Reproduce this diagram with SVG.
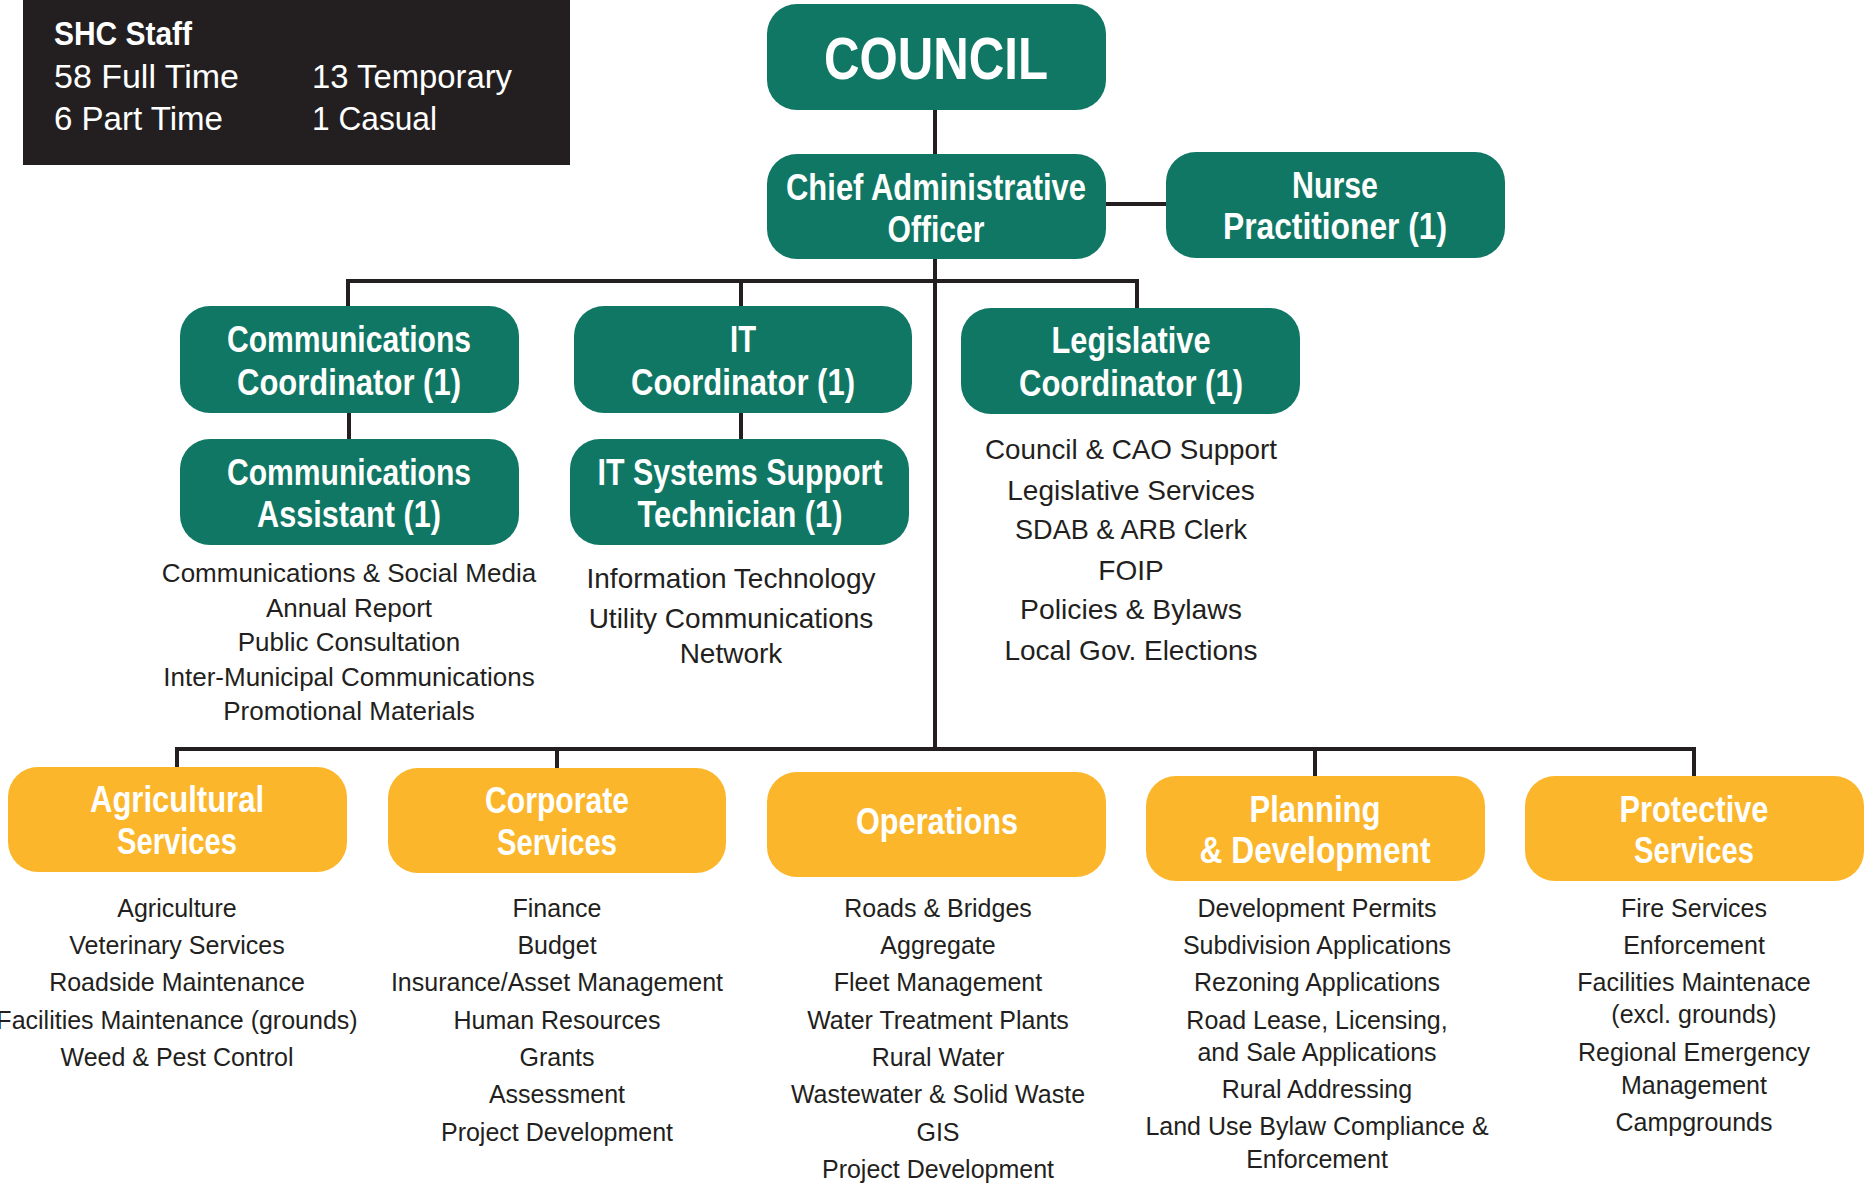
<svg xmlns="http://www.w3.org/2000/svg" width="1870" height="1186" viewBox="0 0 1870 1186">
<style>
.g{fill:#0F7763}
.y{fill:#FBB62B}
.h{font-family:"Liberation Sans",Arial,sans-serif;font-weight:bold;font-size:36px;fill:#fff;text-anchor:middle}
.big{font-size:60px}
.l{font-family:"Liberation Sans",Arial,sans-serif;font-size:25px;fill:#231F20;text-anchor:middle}
.l26{font-size:26px}
.l28{font-size:28px}
.s{font-family:"Liberation Sans",Arial,sans-serif;font-size:33px;fill:#fff}
.c{stroke:#231F20;stroke-width:4;fill:none}
</style>
<rect width="1870" height="1186" fill="#fff"/>
<g id="staff">
<rect x="23" y="0" width="547" height="165" fill="#231F20"/>
<text class="s" x="54" y="45" font-weight="bold" textLength="138" lengthAdjust="spacingAndGlyphs">SHC Staff</text>
<text class="s" x="54" y="88" textLength="185" lengthAdjust="spacingAndGlyphs">58 Full Time</text>
<text class="s" x="54" y="130" textLength="169" lengthAdjust="spacingAndGlyphs">6 Part Time</text>
<text class="s" x="312" y="88" textLength="200" lengthAdjust="spacingAndGlyphs">13 Temporary</text>
<text class="s" x="312" y="130" textLength="125" lengthAdjust="spacingAndGlyphs">1 Casual</text>
</g>
<g id="connectors" class="c">
<line x1="935" y1="108" x2="935" y2="156"/>
<line x1="1104" y1="204" x2="1168" y2="204"/>
<line x1="935" y1="257" x2="935" y2="751"/>
<line x1="346" y1="281" x2="1139" y2="281"/>
<line x1="348" y1="281" x2="348" y2="308"/>
<line x1="741" y1="281" x2="741" y2="308"/>
<line x1="1137" y1="281" x2="1137" y2="310"/>
<line x1="349" y1="411" x2="349" y2="441"/>
<line x1="741" y1="411" x2="741" y2="441"/>
<line x1="175" y1="749" x2="1696" y2="749"/>
<line x1="177" y1="749" x2="177" y2="769"/>
<line x1="557" y1="749" x2="557" y2="770"/>
<line x1="1315" y1="749" x2="1315" y2="778"/>
<line x1="1694" y1="749" x2="1694" y2="778"/>
</g>
<g id="council">
<rect class="g" x="767" y="4" width="339" height="106" rx="30"/>
<text class="h big" x="936" y="79" textLength="224" lengthAdjust="spacingAndGlyphs">COUNCIL</text>
</g>
<g id="cao">
<rect class="g" x="767" y="154" width="339" height="105" rx="30"/>
<text class="h" x="936" y="200" textLength="300" lengthAdjust="spacingAndGlyphs">Chief Administrative</text>
<text class="h" x="936" y="242" textLength="97" lengthAdjust="spacingAndGlyphs">Officer</text>
</g>
<g id="nurse">
<rect class="g" x="1166" y="152" width="339" height="106" rx="30"/>
<text class="h" x="1335" y="198" textLength="86" lengthAdjust="spacingAndGlyphs">Nurse</text>
<text class="h" x="1335" y="239" textLength="224" lengthAdjust="spacingAndGlyphs">Practitioner (1)</text>
</g>
<g id="comm-coord">
<rect class="g" x="180" y="306" width="339" height="107" rx="30"/>
<text class="h" x="349" y="352" textLength="244" lengthAdjust="spacingAndGlyphs">Communications</text>
<text class="h" x="349" y="395" textLength="224" lengthAdjust="spacingAndGlyphs">Coordinator (1)</text>
</g>
<g id="comm-assist">
<rect class="g" x="180" y="439" width="339" height="106" rx="30"/>
<text class="h" x="349" y="485" textLength="244" lengthAdjust="spacingAndGlyphs">Communications</text>
<text class="h" x="349" y="527" textLength="184" lengthAdjust="spacingAndGlyphs">Assistant (1)</text>
<text class="l l26" x="349" y="582">Communications &amp; Social Media</text>
<text class="l l26" x="349" y="617">Annual Report</text>
<text class="l l26" x="349" y="651">Public Consultation</text>
<text class="l l26" x="349" y="686">Inter-Municipal Communications</text>
<text class="l l26" x="349" y="720">Promotional Materials</text>
</g>
<g id="it-coord">
<rect class="g" x="574" y="306" width="338" height="107" rx="30"/>
<text class="h" x="743" y="352" textLength="26" lengthAdjust="spacingAndGlyphs">IT</text>
<text class="h" x="743" y="395" textLength="224" lengthAdjust="spacingAndGlyphs">Coordinator (1)</text>
</g>
<g id="it-tech">
<rect class="g" x="570" y="439" width="339" height="106" rx="30"/>
<text class="h" x="740" y="485" textLength="285" lengthAdjust="spacingAndGlyphs">IT Systems Support</text>
<text class="h" x="740" y="527" textLength="205" lengthAdjust="spacingAndGlyphs">Technician (1)</text>
<text class="l l28" x="731" y="588">Information Technology</text>
<text class="l l28" x="731" y="628">Utility Communications</text>
<text class="l l28" x="731" y="663">Network</text>
</g>
<g id="legislative">
<rect class="g" x="961" y="308" width="339" height="106" rx="30"/>
<text class="h" x="1131" y="353" textLength="159" lengthAdjust="spacingAndGlyphs">Legislative</text>
<text class="h" x="1131" y="396" textLength="224" lengthAdjust="spacingAndGlyphs">Coordinator (1)</text>
<text class="l l28" x="1131" y="459" textLength="292" lengthAdjust="spacingAndGlyphs">Council &amp; CAO Support</text>
<text class="l l28" x="1131" y="500">Legislative Services</text>
<text class="l l28" x="1131" y="539" textLength="232" lengthAdjust="spacingAndGlyphs">SDAB &amp; ARB Clerk</text>
<text class="l l28" x="1131" y="580">FOIP</text>
<text class="l l28" x="1131" y="619" textLength="222" lengthAdjust="spacingAndGlyphs">Policies &amp; Bylaws</text>
<text class="l l28" x="1131" y="660">Local Gov. Elections</text>
</g>
<g id="agricultural">
<rect class="y" x="8" y="767" width="339" height="105" rx="30"/>
<text class="h" x="177" y="812" textLength="174" lengthAdjust="spacingAndGlyphs">Agricultural</text>
<text class="h" x="177" y="854" textLength="120" lengthAdjust="spacingAndGlyphs">Services</text>
<text class="l" x="177" y="917">Agriculture</text>
<text class="l" x="177" y="954">Veterinary Services</text>
<text class="l" x="177" y="991">Roadside Maintenance</text>
<text class="l" x="177" y="1029">Facilities Maintenance (grounds)</text>
<text class="l" x="177" y="1066">Weed &amp; Pest Control</text>
</g>
<g id="corporate">
<rect class="y" x="388" y="768" width="338" height="105" rx="30"/>
<text class="h" x="557" y="813" textLength="144" lengthAdjust="spacingAndGlyphs">Corporate</text>
<text class="h" x="557" y="855" textLength="120" lengthAdjust="spacingAndGlyphs">Services</text>
<text class="l" x="557" y="917">Finance</text>
<text class="l" x="557" y="954">Budget</text>
<text class="l" x="557" y="991">Insurance/Asset Management</text>
<text class="l" x="557" y="1029">Human Resources</text>
<text class="l" x="557" y="1066">Grants</text>
<text class="l" x="557" y="1103">Assessment</text>
<text class="l" x="557" y="1141">Project Development</text>
</g>
<g id="operations">
<rect class="y" x="767" y="772" width="339" height="105" rx="30"/>
<text class="h" x="937" y="834" textLength="162" lengthAdjust="spacingAndGlyphs">Operations</text>
<text class="l" x="938" y="917">Roads &amp; Bridges</text>
<text class="l" x="938" y="954">Aggregate</text>
<text class="l" x="938" y="991">Fleet Management</text>
<text class="l" x="938" y="1029">Water Treatment Plants</text>
<text class="l" x="938" y="1066">Rural Water</text>
<text class="l" x="938" y="1103">Wastewater &amp; Solid Waste</text>
<text class="l" x="938" y="1141">GIS</text>
<text class="l" x="938" y="1178">Project Development</text>
</g>
<g id="planning">
<rect class="y" x="1146" y="776" width="339" height="105" rx="30"/>
<text class="h" x="1315" y="822" textLength="131" lengthAdjust="spacingAndGlyphs">Planning</text>
<text class="h" x="1315" y="863" textLength="231" lengthAdjust="spacingAndGlyphs">&amp; Development</text>
<text class="l" x="1317" y="917">Development Permits</text>
<text class="l" x="1317" y="954">Subdivision Applications</text>
<text class="l" x="1317" y="991">Rezoning Applications</text>
<text class="l" x="1317" y="1029">Road Lease, Licensing,</text>
<text class="l" x="1317" y="1061">and Sale Applications</text>
<text class="l" x="1317" y="1098">Rural Addressing</text>
<text class="l" x="1317" y="1135">Land Use Bylaw Compliance &amp;</text>
<text class="l" x="1317" y="1168">Enforcement</text>
</g>
<g id="protective">
<rect class="y" x="1525" y="776" width="339" height="105" rx="30"/>
<text class="h" x="1694" y="822" textLength="149" lengthAdjust="spacingAndGlyphs">Protective</text>
<text class="h" x="1694" y="863" textLength="120" lengthAdjust="spacingAndGlyphs">Services</text>
<text class="l" x="1694" y="917">Fire Services</text>
<text class="l" x="1694" y="954">Enforcement</text>
<text class="l" x="1694" y="991">Facilities Maintenace</text>
<text class="l" x="1694" y="1023">(excl. grounds)</text>
<text class="l" x="1694" y="1061">Regional Emergency</text>
<text class="l" x="1694" y="1094">Management</text>
<text class="l" x="1694" y="1131">Campgrounds</text>
</g>
</svg>
